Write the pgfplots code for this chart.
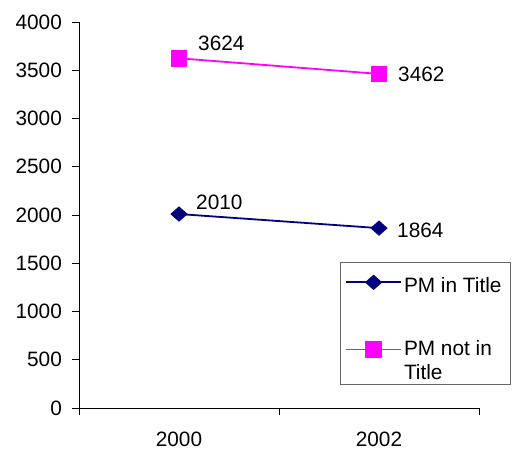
\documentclass[border=0pt]{standalone}
\usepackage{pgfplots}
\pgfplotsset{compat=1.18}
\usepackage{fontspec}
\setmainfont{Liberation Sans}
\definecolor{pmnavy}{HTML}{000080}
\definecolor{pmmagenta}{HTML}{FF00FF}
\begin{document}
\fontsize{20.8}{24}\selectfont
\begin{tikzpicture}[x=1pt,y=1pt]
\begin{axis}[
  scale only axis,
  width=400pt, height=386pt,
  at={(0,0)}, anchor=south west,
  xmin=-0.5, xmax=1.5,
  ymin=0, ymax=4000,
  axis lines*=left,
  axis line style={-, line width=0.9pt},
  tick align=outside,
  major tick length=7pt,
  tick style={black, line width=0.9pt},
  xtick={-0.5,0.5,1.5},
  xticklabels={},
  extra x ticks={0,1},
  extra x tick labels={2000,2002},
  extra x tick style={major tick length=0pt, tick label style={yshift=-17pt}},
  ytick={0,500,...,4000},
  /pgf/number format/assume math mode=true,
  yticklabel style={/pgf/number format/1000 sep={}, xshift=-3pt},
  ticklabel style={font=\fontsize{20.8}{24}\selectfont},
  clip=false,
  legend cell align=left,
  legend style={
    at={(0.6525,0.378)}, anchor=north west,
    draw=none, fill=none,
    font=\fontsize{20.8}{24}\selectfont,
    inner xsep=5pt, inner ysep=4pt,
    nodes={inner xsep=2pt, inner ysep=3pt},
    row sep=39pt,
  },
  legend image code/.code={%
    \draw[#1, line width=1.8pt, mark repeat=2, mark phase=2]
      plot coordinates {(0pt,0pt) (27.5pt,0pt) (55pt,0pt)};},
]
\addplot[pmnavy, line width=1.8pt, mark=diamond*, mark size=6.5pt,
  mark options={solid, xscale=1.5, fill=pmnavy}]
  coordinates {(0,2010) (1,1864)};
\addlegendentry{\rule{0pt}{23pt}PM in Title}
\addplot[pmmagenta, line width=1.8pt, mark=square*, mark size=7.5pt,
  mark options={solid, fill=pmmagenta}]
  coordinates {(0,3624) (1,3462)};
\addlegendentry{\vtop{\baselineskip=24pt\hbox{PM not in}\hbox{Title}}}
% legend frame
\draw[black!60, line width=0.9pt]
  (axis description cs:0.6525,0.0622) rectangle (axis description cs:1.0775,0.3782);
% value labels beside each point
\node[anchor=west, inner sep=0pt, xshift=19pt, yshift=15pt] at (axis cs:0,3624) {3624};
\node[anchor=west, inner sep=0pt, xshift=19pt, yshift=0pt] at (axis cs:1,3462) {3462};
\node[anchor=west, inner sep=0pt, xshift=17pt, yshift=12pt] at (axis cs:0,2010) {2010};
\node[anchor=west, inner sep=0pt, xshift=18pt, yshift=-2pt] at (axis cs:1,1864) {1864};
\end{axis}
\pgfresetboundingbox
\path (-79pt,-42pt) rectangle (435pt,408pt);
\end{tikzpicture}
\end{document}
